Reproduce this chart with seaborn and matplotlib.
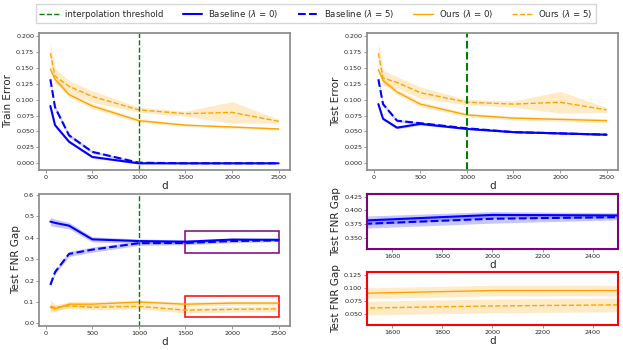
import numpy as np
import pandas as pd
import matplotlib
matplotlib.use("Agg")
import matplotlib.pyplot as plt
import matplotlib.patches as patches
from matplotlib.lines import Line2D
import seaborn as sns

# DATA
d = [50, 100, 250, 500, 1000, 1500, 2000, 2500]

series = ["Baseline ($\\lambda$ = 0)", "Baseline ($\\lambda$ = 5)",
          "Ours ($\\lambda$ = 0)", "Ours ($\\lambda$ = 5)"]

train_base0 = [0.090, 0.060, 0.034, 0.010, 0.000, 0.000, 0.000, 0.000]
train_base5 = [0.132, 0.088, 0.044, 0.018, 0.001, 0.000, 0.000, 0.000]
train_ours0 = [0.148, 0.132, 0.108, 0.090, 0.067, 0.060, 0.057, 0.054]
train_ours5 = [0.173, 0.137, 0.121, 0.105, 0.084, 0.078, 0.080, 0.066]

train_base0_sd = [0.003, 0.002, 0.002, 0.002, 0.001, 0.000, 0.000, 0.000]
train_base5_sd = [0.004, 0.003, 0.003, 0.002, 0.001, 0.000, 0.000, 0.000]
train_ours0_sd = [0.004, 0.004, 0.004, 0.004, 0.003, 0.002, 0.002, 0.002]
train_ours5_sd = [0.017, 0.012, 0.009, 0.009, 0.004, 0.004, 0.017, 0.003]

test_base0 = [0.093, 0.070, 0.056, 0.062, 0.054, 0.049, 0.047, 0.045]
test_base5 = [0.132, 0.093, 0.067, 0.063, 0.055, 0.049, 0.047, 0.045]
test_ours0 = [0.147, 0.130, 0.112, 0.093, 0.076, 0.071, 0.069, 0.067]
test_ours5 = [0.173, 0.134, 0.127, 0.111, 0.096, 0.093, 0.096, 0.084]

test_base0_sd = [0.003, 0.002, 0.002, 0.002, 0.001, 0.001, 0.001, 0.001]
test_base5_sd = [0.004, 0.003, 0.002, 0.002, 0.001, 0.001, 0.001, 0.001]
test_ours0_sd = [0.004, 0.004, 0.004, 0.004, 0.003, 0.003, 0.003, 0.003]
test_ours5_sd = [0.017, 0.012, 0.009, 0.009, 0.004, 0.005, 0.017, 0.004]

fnr_base0 = [0.476, 0.470, 0.457, 0.393, 0.385, 0.382, 0.392, 0.391]
fnr_base5 = [0.180, 0.240, 0.325, 0.345, 0.375, 0.376, 0.385, 0.388]
fnr_ours0 = [0.075, 0.068, 0.090, 0.090, 0.100, 0.090, 0.095, 0.095]
fnr_ours5 = [0.080, 0.075, 0.082, 0.075, 0.080, 0.062, 0.066, 0.068]

fnr_base0_sd = [0.020, 0.018, 0.015, 0.012, 0.010, 0.008, 0.006, 0.005]
fnr_base5_sd = [0.010, 0.010, 0.012, 0.012, 0.010, 0.008, 0.008, 0.005]
fnr_ours0_sd = [0.015, 0.012, 0.012, 0.012, 0.010, 0.010, 0.010, 0.010]
fnr_ours5_sd = [0.030, 0.015, 0.012, 0.012, 0.012, 0.013, 0.013, 0.013]

# STYLES
colors = ["blue", "blue", "orange", "orange"]
styles = ["-", "--", "-", "--"]
widths = [1.5, 1.5, 1.0, 1.0]

sns.set_style("white")
plt.rcParams["axes.edgecolor"] = "#888888"
plt.rcParams["xtick.color"] = "#888888"
plt.rcParams["ytick.color"] = "#888888"
plt.rcParams["xtick.labelcolor"] = "#222222"
plt.rcParams["ytick.labelcolor"] = "#222222"
plt.rcParams["xtick.bottom"] = True
plt.rcParams["ytick.left"] = True
plt.rcParams["xtick.major.size"] = 2
plt.rcParams["ytick.major.size"] = 2
plt.rcParams["font.family"] = ["DejaVu Sans"]

W, H = 623, 350
fig = plt.figure(figsize=(6.23, 3.5), dpi=100)


def box(x0, y0, x1, y1):
    return [x0 / W, 1 - y1 / H, (x1 - x0) / W, (y1 - y0) / H]


def draw(ax, means, sds):
    for m, s, c, ls, lw in zip(means, sds, colors, styles, widths):
        m = np.array(m)
        s = np.array(s)
        ax.fill_between(d, m - s, m + s, color=c, alpha=0.22, lw=0)
        sns.lineplot(x=d, y=m, color=c, linestyle=ls, linewidth=lw, ax=ax)


def style_axes(ax, ylabel, tick_fs=4.6):
    ax.set_xlabel("d", fontsize=7.5, labelpad=1)
    ax.set_ylabel(ylabel, fontsize=7.5, labelpad=2)
    ax.tick_params(labelsize=tick_fs, pad=1.5, width=0.6)


# TRAIN ERROR
ax1 = fig.add_axes(box(39, 33, 290, 170))
draw(ax1, [train_base0, train_base5, train_ours0, train_ours5],
     [train_base0_sd, train_base5_sd, train_ours0_sd, train_ours5_sd])
ax1.axvline(1000, color="green", linestyle="--", linewidth=1.0)
ax1.set_ylim(-0.0105, 0.2047)
ax1.set_xlim(-72, 2622)
ax1.set_xticks([0, 500, 1000, 1500, 2000, 2500])
ax1.set_yticks(np.arange(0, 0.201, 0.025))
style_axes(ax1, "Train Error")

# TEST ERROR
ax2 = fig.add_axes(box(367, 33, 618, 170))
draw(ax2, [test_base0, test_base5, test_ours0, test_ours5],
     [test_base0_sd, test_base5_sd, test_ours0_sd, test_ours5_sd])
ax2.axvline(1000, color="green", linestyle="--", linewidth=1.5)
ax2.set_ylim(-0.0105, 0.2047)
ax2.set_xlim(-72, 2622)
ax2.set_xticks([0, 500, 1000, 1500, 2000, 2500])
ax2.set_yticks(np.arange(0, 0.201, 0.025))
style_axes(ax2, "Test Error")

# TEST FNR GAP
fnr_means = [fnr_base0, fnr_base5, fnr_ours0, fnr_ours5]
fnr_sds = [fnr_base0_sd, fnr_base5_sd, fnr_ours0_sd, fnr_ours5_sd]

ax3 = fig.add_axes(box(39, 194, 290, 326))
draw(ax3, fnr_means, fnr_sds)
ax3.axvline(1000, color="green", linestyle="--", linewidth=1.0)
ax3.set_ylim(-0.012, 0.605)
ax3.set_xlim(-72, 2622)
ax3.set_xticks([0, 500, 1000, 1500, 2000, 2500])
ax3.set_yticks(np.arange(0, 0.61, 0.1))
style_axes(ax3, "Test FNR Gap")
ax3.add_patch(patches.Rectangle((1500, 0.33), 1000, 0.10, fill=False,
                                edgecolor="purple", linewidth=1.1))
ax3.add_patch(patches.Rectangle((1500, 0.03), 1000, 0.10, fill=False,
                                edgecolor="red", linewidth=1.1))

# ZOOMED INSETS
ax4 = fig.add_axes(box(367, 194, 618, 249))
draw(ax4, fnr_means, fnr_sds)
ax4.set_xlim(1500, 2500)
ax4.set_ylim(0.33, 0.43)
ax4.set_yticks([0.350, 0.375, 0.400, 0.425])
style_axes(ax4, "Test FNR Gap")

ax5 = fig.add_axes(box(367, 272, 618, 325))
draw(ax5, fnr_means, fnr_sds)
ax5.set_xlim(1500, 2500)
ax5.set_ylim(0.03, 0.13)
ax5.set_yticks([0.050, 0.075, 0.100, 0.125])
style_axes(ax5, "Test FNR Gap")

for ax, c in [(ax4, "purple"), (ax5, "red")]:
    ax.set_xticks([1600, 1800, 2000, 2200, 2400])
    for sp in ax.spines.values():
        sp.set_edgecolor(c)
        sp.set_linewidth(1.5)

for ax in [ax1, ax2, ax3]:
    for sp in ax.spines.values():
        sp.set_linewidth(1.2)

# LEGEND
handles = [Line2D([], [], color="green", linestyle="--", linewidth=1.0)]
labels = ["interpolation threshold"]
for name, c, ls, lw in zip(series, colors, styles, widths):
    handles.append(Line2D([], [], color=c, linestyle=ls, linewidth=lw))
    labels.append(name)
fig.legend(handles, labels, loc="upper center", bbox_to_anchor=(0.507, 1.0),
           ncol=5, fontsize=6.2, frameon=True, fancybox=False,
           edgecolor="#cccccc", borderpad=0.4, handlelength=2.3,
           handletextpad=0.7, columnspacing=2.2)

fig.savefig("out.png", dpi=100)
